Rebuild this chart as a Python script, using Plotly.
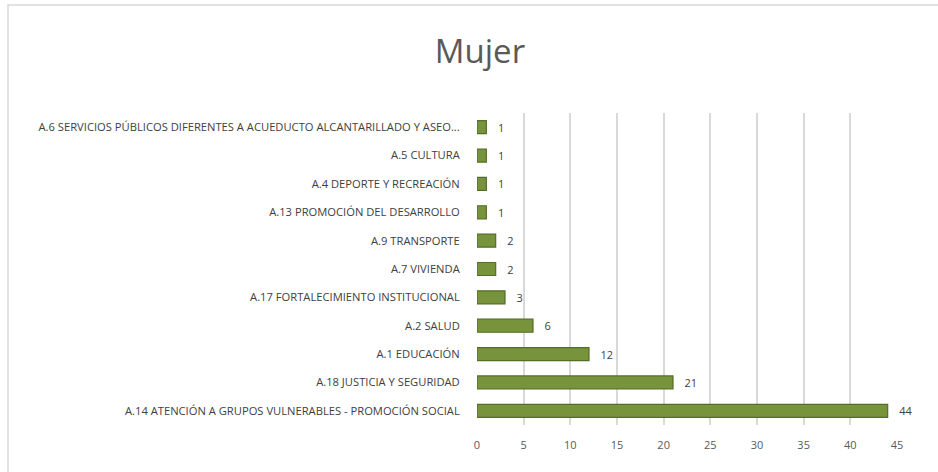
import plotly.graph_objects as go

categories = [
    "A.14 ATENCIÓN A GRUPOS VULNERABLES - PROMOCIÓN SOCIAL",
    "A.18 JUSTICIA Y SEGURIDAD",
    "A.1 EDUCACIÓN",
    "A.2 SALUD",
    "A.17 FORTALECIMIENTO INSTITUCIONAL",
    "A.7 VIVIENDA",
    "A.9 TRANSPORTE",
    "A.13 PROMOCIÓN DEL DESARROLLO",
    "A.4 DEPORTE Y RECREACIÓN",
    "A.5 CULTURA",
    "A.6 SERVICIOS PÚBLICOS DIFERENTES A ACUEDUCTO ALCANTARILLADO Y ASEO...",
]
values = [44, 21, 12, 6, 3, 2, 2, 1, 1, 1, 1]
x_ticks = [0, 5, 10, 15, 20, 25, 30, 35, 40, 45]

W, H = 938, 472
ml, mr, mt, mb = 477, 41, 113, 47
pw = W - ml - mr
ph = H - mt - mb

fig = go.Figure()
fig.add_trace(go.Bar(
    x=values, y=categories, orientation="h",
    width=0.46,
    marker=dict(color="#77933C", line=dict(color="#556D26", width=1.2)),
    text=["   " + str(v) for v in values], textposition="outside",
    constraintext="none",
    textfont=dict(family="Open Sans", size=11, color="#404040"),
    cliponaxis=False,
))

def px_x(p):
    return (p - ml) / pw

def px_y(p):
    return (H - mb - p) / ph

fig.update_layout(
    width=W, height=H,
    margin=dict(l=ml, r=mr, t=mt, b=mb, autoexpand=False),
    paper_bgcolor="white", plot_bgcolor="white",
    title=dict(text="Mujer", x=480 / W, xanchor="center", y=1 - 51 / H, yanchor="middle",
               font=dict(family="Open Sans", size=33, color="#595959")),
    showlegend=False,
    xaxis=dict(range=[0, 45], tickvals=x_ticks, showgrid=True, gridcolor="#D9D9D9", gridwidth=2,
               zeroline=False, showline=False, ticks="outside", ticklen=10, tickcolor="rgba(0,0,0,0)",
               tickfont=dict(family="Open Sans", size=11, color="#595959")),
    yaxis=dict(categoryorder="array", categoryarray=categories, showgrid=False, zeroline=False,
               showline=False, ticks="outside", ticklen=14, tickcolor="rgba(0,0,0,0)",
               tickfont=dict(family="Open Sans", size=11.2, color="#404040")),
    shapes=[dict(type="rect", xref="paper", yref="paper",
                 x0=px_x(8), x1=px_x(945), y0=px_y(480), y1=px_y(5),
                 line=dict(color="#D9D9D9", width=1.5), fillcolor="rgba(0,0,0,0)", layer="below")],
)

fig.write_html("out.html", config={"displayModeBar": False},
               post_script="document.body.style.margin='0';")
